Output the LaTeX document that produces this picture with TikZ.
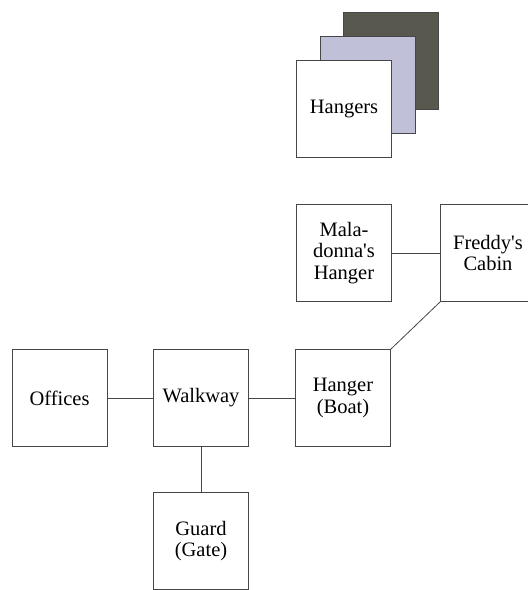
\documentclass[tikz,border=0pt]{standalone}
\usepackage{fontspec}
\setmainfont{Liberation Serif}
\definecolor{lav}{RGB}{192,192,216}
\definecolor{darkbox}{RGB}{88,88,78}
\definecolor{edge}{RGB}{70,70,70}
\begin{document}
\begin{tikzpicture}[x=1pt,y=-1pt,
  room/.style={draw=edge,line width=0.8pt,fill=white,minimum width=95pt,minimum height=97pt,inner sep=0pt,align=center,font=\fontsize{20.5}{21.5}\selectfont},
  link/.style={draw=edge,line width=0.8pt}]
\useasboundingbox (0,0) rectangle (528,590);
\begin{scope}
\clip (0,0) rectangle (528,590);
% stacked hangers
\node[room,fill=darkbox] (hback) at (391,61) {};
\node[room,fill=lav] (hmid) at (367.5,85) {};
\node[room] (hfront) at (344,109) {Hangers};
% rooms
\node[room] (mala) at (344,253) {Mala-\\donna\textquotesingle s\\Hanger};
\node[room] (freddy) at (488,253) {Freddy\textquotesingle s\\Cabin};
\node[room] (offices) at (59.5,398) {Offices};
\node[room] (walk) at (201,398) {Walkway};
\node[room] (hanger) at (343,398) {Hanger\\(Boat)};
\node[room] (guard) at (201,541) {Guard\\(Gate)};
% connectors
\draw[link] (mala) -- (freddy);
\draw[link] (hanger.north east) -- (freddy.south west);
\draw[link] (offices) -- (walk);
\draw[link] (walk) -- (hanger);
\draw[link] (walk) -- (guard);
\end{scope}
\end{tikzpicture}
\end{document}
